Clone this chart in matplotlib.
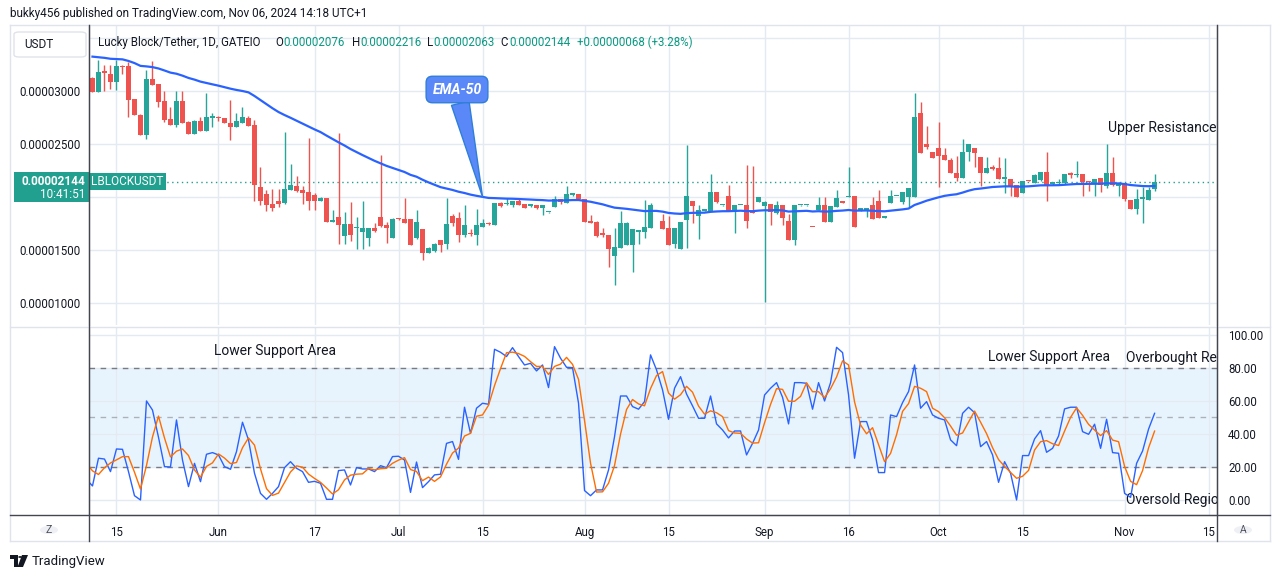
import numpy as np, pandas as pd, matplotlib
matplotlib.use("Agg")
import matplotlib.pyplot as plt
from matplotlib.patches import FancyBboxPatch, Circle, Rectangle, Polygon
from matplotlib.lines import Line2D

plt.rcParams["font.family"] = ["Roboto", "DejaVu Sans"]

# ===== DATA (prices in units of 1e-5 USDT, one bar per day from May 11) =====
OPEN = [3.126, 2.997, 3.182, 3.164, 3.091, 3.236, 3.239, 2.925, 2.777, 2.588,
        3.116, 3.069, 2.909, 2.739, 2.682, 2.909, 2.714, 2.597, 2.720, 2.626,
        2.752, 2.755, 2.745, 2.701, 2.667, 2.704, 2.745, 2.682, 2.101, 2.031,
        1.937, 1.965, 1.950, 2.069, 2.107, 2.069, 2.050, 2.022, 1.969, 1.994,
        1.770, 1.818, 1.638, 1.748, 1.708, 1.676, 1.619, 1.708, 1.814, 1.739,
        1.619, 1.802, 1.796, 1.796, 1.619, 1.701, 1.472, 1.497, 1.597, 1.560,
        1.827, 1.808, 1.645, 1.660, 1.645, 1.723, 1.752, 1.739, 1.947, 1.934,
        1.928, 1.965, 1.937, 1.921, 1.925, 1.896, 1.858, 1.912, 1.981, 1.943,
        2.025, 2.031, 1.981, 1.777, 1.770, 1.654, 1.645, 1.450, 1.525, 1.553,
        1.553, 1.676, 1.676, 1.714, 1.860, 1.777, 1.708, 1.563, 1.513, 1.786,
        1.965, 1.827, 1.874, 1.874, 2.050, 1.923, 2.013, 1.874, 1.925, 1.928,
        1.862, 1.956, 1.921, 1.937, 1.855, 1.928, 1.777, 1.597, 1.925, 1.923,
        1.720, 1.880, 1.928, 1.770, 1.912, 1.965, 2.003, 2.013, 1.874, 1.874,
        1.928, 1.965, 1.808, 1.950, 2.011, 1.959, 2.006, 2.006, 2.796, 2.503,
        2.431, 2.465, 2.399, 2.355, 2.230, 2.186, 2.425, 2.462, 2.377, 2.231,
        2.282, 2.275, 2.168, 2.171, 2.114, 2.041, 2.157, 2.136, 2.161, 2.234,
        2.128, 2.134, 2.130, 2.225, 2.207, 2.218, 2.148, 2.136, 2.180, 2.104,
        2.225, 2.109, 2.136, 1.978, 1.886, 1.987, 1.972, 2.076]
HIGH = [3.135, 3.296, 3.248, 3.248, 3.296, 3.248, 3.280, 2.925, 2.783, 3.201,
        3.286, 3.069, 3.003, 2.849, 3.003, 3.003, 2.720, 2.730, 2.761, 2.987,
        2.799, 2.767, 2.745, 2.918, 2.799, 2.849, 2.770, 2.730, 2.283, 2.069,
        2.079, 2.079, 2.619, 2.314, 2.201, 2.107, 2.560, 2.044, 2.006, 1.994,
        1.881, 2.607, 1.858, 1.956, 1.818, 1.962, 1.708, 1.755, 2.399, 1.764,
        1.802, 1.808, 1.997, 1.796, 1.881, 1.701, 1.535, 1.566, 1.597, 1.991,
        1.843, 1.858, 1.928, 1.701, 1.890, 1.796, 1.770, 1.947, 1.959, 1.997,
        1.965, 1.997, 1.937, 1.931, 1.925, 1.925, 1.860, 2.013, 1.981, 2.107,
        2.038, 2.031, 1.981, 1.833, 1.780, 1.708, 1.645, 1.708, 1.871, 1.770,
        1.701, 1.685, 1.975, 1.950, 1.865, 1.843, 1.824, 1.708, 1.767, 2.494,
        1.965, 1.928, 1.880, 2.220, 2.050, 1.927, 2.116, 1.928, 1.929, 2.305,
        2.296, 2.003, 1.969, 1.937, 1.965, 1.928, 1.843, 1.928, 1.930, 1.928,
        1.722, 2.006, 2.006, 1.918, 2.069, 1.965, 2.289, 2.013, 1.896, 1.896,
        2.006, 2.069, 1.813, 2.069, 2.016, 2.050, 2.088, 2.987, 2.903, 2.673,
        2.431, 2.711, 2.469, 2.368, 2.390, 2.550, 2.503, 2.462, 2.383, 2.383,
        2.304, 2.377, 2.373, 2.171, 2.114, 2.155, 2.160, 2.215, 2.240, 2.430,
        2.145, 2.171, 2.221, 2.234, 2.342, 2.218, 2.150, 2.171, 2.180, 2.503,
        2.377, 2.146, 2.136, 1.978, 2.082, 2.098, 2.098, 2.216]
LOW = [2.997, 2.997, 3.006, 3.019, 3.013, 3.164, 2.761, 2.777, 2.585, 2.550,
       3.060, 2.855, 2.714, 2.682, 2.667, 2.698, 2.597, 2.597, 2.626, 2.626,
       2.667, 2.723, 2.698, 2.541, 2.667, 2.704, 2.676, 1.969, 1.928, 1.874,
       1.874, 1.912, 1.937, 2.069, 2.053, 1.937, 1.881, 1.881, 1.969, 1.770,
       1.767, 1.560, 1.560, 1.591, 1.513, 1.513, 1.541, 1.676, 1.723, 1.572,
       1.619, 1.786, 1.761, 1.553, 1.607, 1.412, 1.472, 1.487, 1.487, 1.509,
       1.730, 1.582, 1.629, 1.635, 1.553, 1.723, 1.739, 1.739, 1.912, 1.928,
       1.912, 1.928, 1.903, 1.912, 1.890, 1.836, 1.856, 1.912, 1.937, 1.943,
       2.016, 1.981, 1.767, 1.761, 1.623, 1.629, 1.346, 1.173, 1.525, 1.553,
       1.299, 1.560, 1.619, 1.714, 1.858, 1.701, 1.553, 1.525, 1.513, 1.525,
       1.761, 1.607, 1.871, 1.874, 1.943, 1.921, 1.874, 1.667, 1.923, 1.714,
       1.852, 1.956, 1.016, 1.742, 1.843, 1.739, 1.597, 1.553, 1.922, 1.921,
       1.715, 1.880, 1.770, 1.770, 1.912, 1.950, 2.003, 1.723, 1.874, 1.811,
       1.796, 1.808, 1.806, 1.950, 2.009, 1.934, 1.912, 2.006, 2.421, 2.456,
       2.374, 2.101, 2.352, 2.233, 2.157, 2.186, 2.346, 2.288, 2.104, 2.231,
       2.256, 2.168, 2.044, 2.009, 2.003, 2.041, 2.150, 2.130, 2.155, 1.965,
       2.120, 2.114, 2.127, 2.177, 2.193, 2.009, 2.060, 2.009, 2.051, 2.089,
       2.104, 2.009, 1.965, 1.892, 1.839, 1.756, 1.972, 2.063]
CLOSE = [2.997, 3.182, 3.176, 3.091, 3.239, 3.230, 2.918, 2.777, 2.588, 3.116,
         3.060, 2.903, 2.730, 2.682, 2.909, 2.704, 2.597, 2.723, 2.626, 2.755,
         2.758, 2.749, 2.698, 2.667, 2.720, 2.758, 2.676, 2.116, 1.969, 1.928,
         1.903, 1.937, 2.079, 2.116, 2.060, 2.044, 1.969, 1.969, 1.994, 1.770,
         1.773, 1.742, 1.748, 1.645, 1.717, 1.708, 1.708, 1.682, 1.733, 1.714,
         1.796, 1.796, 1.761, 1.553, 1.764, 1.472, 1.522, 1.560, 1.553, 1.748,
         1.755, 1.645, 1.739, 1.654, 1.739, 1.758, 1.748, 1.947, 1.918, 1.937,
         1.965, 1.928, 1.903, 1.925, 1.896, 1.925, 1.860, 1.981, 1.956, 2.031,
         2.031, 1.981, 1.767, 1.761, 1.638, 1.648, 1.513, 1.535, 1.758, 1.758,
         1.701, 1.680, 1.717, 1.928, 1.862, 1.701, 1.553, 1.708, 1.767, 2.013,
         1.918, 1.880, 1.877, 2.050, 1.953, 1.925, 1.874, 1.928, 1.927, 1.780,
         1.852, 2.003, 1.956, 1.865, 1.928, 1.808, 1.597, 1.928, 1.928, 1.926,
         1.717, 1.928, 1.770, 1.918, 1.991, 1.950, 2.009, 1.723, 1.896, 1.896,
         1.796, 1.808, 1.811, 2.013, 2.014, 2.050, 2.088, 2.758, 2.421, 2.478,
         2.374, 2.393, 2.352, 2.233, 2.186, 2.428, 2.503, 2.421, 2.231, 2.275,
         2.269, 2.168, 2.190, 2.098, 2.003, 2.155, 2.153, 2.209, 2.234, 2.114,
         2.131, 2.137, 2.218, 2.209, 2.210, 2.146, 2.144, 2.171, 2.114, 2.225,
         2.114, 2.112, 1.984, 1.892, 1.987, 1.990, 2.073, 2.144]
EMA_PRE = 3.34          # EMA-50 value on the bar before the first visible one
LAST_PRICE = 2.144

# Stochastic RSI %K (first two values are the bars left of the window)
STOCH_K = [32.0, 12.5,
           8.5, 25.3, 24.8, 17.2, 30.9, 30.7, 17.2, 2.6, 0.0, 60.0,
           54.5, 38.0, 20.2, 20.0, 48.5, 24.2, 8.1, 22.2, 11.1, 27.7,
           28.7, 27.3, 20.2, 18.6, 29.3, 47.1, 36.4, 16.2, 4.0, 0.4,
           4.0, 8.1, 19.6, 23.2, 19.2, 17.2, 10.7, 11.3, 10.1, 0.4,
           0.4, 17.8, 18.2, 9.1, 19.6, 18.8, 18.8, 17.2, 20.8, 19.6,
           26.3, 26.5, 24.2, 4.6, 23.0, 7.5, 11.1, 15.2, 15.6, 34.3,
           35.4, 24.6, 56.2, 40.4, 55.6, 58.6, 58.0, 91.3, 89.5, 86.9,
           92.3, 86.9, 81.8, 82.8, 78.2, 81.8, 68.1, 92.9, 85.9, 80.4,
           80.2, 58.6, 5.7, 2.6, 6.1, 6.1, 18.2, 38.4, 63.0, 63.0,
           56.6, 55.0, 59.6, 87.9, 78.8, 66.7, 48.9, 67.7, 74.7, 64.2,
           57.0, 49.5, 49.5, 63.0, 46.1, 42.4, 37.6, 41.8, 41.8, 27.3,
           34.3, 42.4, 63.6, 67.7, 71.1, 62.2, 46.1, 71.1, 71.1, 70.7,
           55.0, 71.1, 60.0, 71.1, 92.5, 89.3, 63.6, 25.3, 47.5, 47.5,
           36.4, 16.6, 16.6, 51.5, 50.5, 59.0, 65.7, 81.8, 55.6, 59.6,
           51.5, 49.5, 48.5, 36.4, 32.9, 52.5, 56.2, 52.9, 32.3, 35.4,
           27.3, 10.7, 23.2, 16.2, 0.0, 26.9, 26.9, 37.0, 42.0, 28.9,
           31.3, 38.8, 55.2, 56.2, 56.2, 41.4, 39.8, 45.9, 31.3, 48.9,
           28.7, 28.3, 4.0, 1.6, 22.2, 29.7, 43.0, 52.5]

TICK_POS = [4, 21, 37, 51, 65, 82, 96, 112, 126, 141, 155, 172, 186]
TICK_LBL = ["15", "Jun", "17", "Jul", "15", "Aug", "15", "Sep", "16", "Oct",
            "15", "Nov", "15"]
PRICE_TICKS = [1.0, 1.5, 2.0, 2.5, 3.0, 3.5]
OSC_TICKS = [0, 20, 40, 60, 80, 100]

# ===== STYLE =====
UP = "#26a69a"; DN = "#ef5350"; EMA_C = "#2962ff"; K_C = "#2962ff"; D_C = "#ff6d00"
GRID = "#e3eaf2"; FRAME = "#e0e3eb"; DARK = "#434651"; TXT = "#131722"; TEAL = "#22a08f"
W, H = 1281, 579
def fx(x): return x / W
def fy(y): return 1 - y / H

o = np.array(OPEN); h = np.array(HIGH); l = np.array(LOW); c = np.array(CLOSE)
x = np.arange(len(c))
ema = pd.Series(np.r_[EMA_PRE, c]).ewm(span=50, adjust=False).mean().to_numpy()[1:]
k_all = pd.Series(STOCH_K)
d_all = k_all.rolling(3, min_periods=1).mean()
xk = np.arange(len(STOCH_K)) - 2

fig = plt.figure(figsize=(W / 100, H / 100), dpi=100, facecolor="white")
ax1 = fig.add_axes([fx(89), fy(325), (1217 - 89) / W, 300 / H])
ax2 = fig.add_axes([fx(89), fy(515), (1217 - 89) / W, 187 / H], sharex=ax1)

# --- price panel
col = np.where(c >= o, UP, DN)
ax1.vlines(x, l, h, colors=col, lw=1, zorder=3)
ax1.bar(x, np.maximum(np.abs(c - o), 0.012), bottom=np.minimum(o, c), width=0.78,
        color=col, lw=0, zorder=3)
ax1.plot(x, ema, color=EMA_C, lw=1.6, zorder=4)
ax1.axhline(LAST_PRICE, color=TEAL, lw=1, ls=(0, (1, 2.5)), zorder=2)
ax1.set_xlim(-0.58, 187.4)
ax1.set_ylim(0.795, 3.625)
ax1.set_yticks(PRICE_TICKS)
ax1.set_yticklabels(["" if v in (2.0, 3.5) else f"{v * 1e-5:.8f}" for v in PRICE_TICKS])
ax1.tick_params(axis="y", length=0, pad=6, labelsize=8.3, labelcolor=TXT)
ax1.tick_params(axis="x", length=0, labelbottom=False)
ax1.grid(True, color=GRID, lw=1, zorder=0)
for s in ["top", "bottom"]:
    ax1.spines[s].set_visible(False)
for s in ["left", "right"]:
    ax1.spines[s].set_color(DARK)

ax1.annotate("EMA-50", xy=(65, ema[65]), xytext=(fx(457), fy(89.5)),
             textcoords="figure fraction", ha="center", va="center",
             color="white", fontsize=10, fontstyle="italic", fontweight="bold",
             bbox=dict(boxstyle="round,pad=0.45,rounding_size=0.45", fc="#5b88f8", ec="#2f7fd8", lw=1),
             arrowprops=dict(arrowstyle="wedge,tail_width=1.3,shrink_factor=0.5",
                             fc="#5b88f8", ec="#2f7fd8", lw=1, shrinkA=0, shrinkB=0),
             zorder=6)
ax1.text(169.25, 2.654, "Upper Resistance", fontsize=10, color=TXT, va="center", ha="left")

# --- oscillator panel
ax2.axhspan(20, 80, color="#2196f3", alpha=0.1, lw=0, zorder=1)
for v, a in [(80, 1), (50, 0.55), (20, 1)]:
    ax2.axhline(v, color="#787b86", lw=1, ls=(0, (4, 4)), alpha=a, zorder=2)
ax2.plot(xk, k_all, color=K_C, lw=1, zorder=4)
ax2.plot(xk, d_all, color=D_C, lw=1, zorder=4)
ax2.set_ylim(-9.1, 104.2)
ax2.set_yticks(OSC_TICKS)
ax2.set_yticklabels([f"{v:.2f}" for v in OSC_TICKS])
ax2.yaxis.tick_right()
ax2.tick_params(axis="y", length=0, pad=8, labelsize=8.3, labelcolor=TXT)
ax2.set_xticks(TICK_POS)
ax2.set_xticklabels(TICK_LBL)
ax2.tick_params(axis="x", length=0, pad=8, labelsize=8.3, labelcolor=TXT)
ax2.grid(True, color=GRID, lw=1, zorder=0)
ax2.spines["top"].set_visible(False)
for s in ["left", "right", "bottom"]:
    ax2.spines[s].set_color(DARK)
ax2.text(20.25, 90.3, "Lower Support Area", fontsize=10, color=TXT, va="center")
ax2.text(149.25, 86.7, "Lower Support Area", fontsize=10, color=TXT, va="center")
ax2.text(172.25, 86.0, "Overbought Region", fontsize=10, color=TXT, va="center", clip_on=True)
ax2.text(172.25, 0.0, "Oversold Region", fontsize=10, color=TXT, va="center", clip_on=True)

# --- frame and chrome
def fline(x0, y0, x1, y1, color, lw=1):
    fig.add_artist(Line2D([fx(x0), fx(x1)], [fy(y0), fy(y1)], color=color, lw=lw,
                          transform=fig.transFigure))
fline(10, 25, 1270, 25, FRAME); fline(10, 541, 1270, 541, FRAME)
fline(10, 25, 10, 541, FRAME); fline(1270, 25, 1270, 541, FRAME)
fline(10, 326.5, 1270, 326.5, FRAME)
fline(10, 515, 1270, 515, DARK)
fline(89, 25, 89, 541, DARK); fline(1217, 25, 1217, 541, DARK)

fig.text(fx(10), fy(14), "bukky456 published on TradingView.com, Nov 06, 2024 14:18 UTC+1",
         fontsize=8.5, color=TXT, va="center")
fig.add_artist(FancyBboxPatch((fx(14), fy(57)), fx(72), 25 / H,
                              boxstyle="round,pad=0,rounding_size=0.004",
                              fc="white", ec=FRAME, lw=1, transform=fig.transFigure))
fig.text(fx(24), fy(45), "USDT", fontsize=8.5, color=TXT, va="center")

legend = [(98.5, "Lucky Block/Tether, 1D, GATEIO", TXT), (275, "O", TXT),
          (283.5, "0.00002076", "#089981"), (351.5, "H", TXT),
          (360, "0.00002216", "#089981"), (427, "L", TXT),
          (433.5, "0.00002063", "#089981"), (500.5, "C", TXT),
          (509, "0.00002144", "#089981"), (577, "+0.00000068 (+3.28%)", "#089981")]
for px, s, cc in legend:
    fig.text(fx(px), fy(42.5), s, fontsize=8.3, color=cc, va="center")

# last price tag on the left scale
fig.add_artist(Rectangle((fx(14), fy(202)), fx(75), 30 / H, fc=TEAL, ec="none",
                         transform=fig.transFigure))
fig.text(fx(85), fy(181), "0.00002144", fontsize=8.5, color="white",
         fontweight="bold", ha="right", va="center")
fig.text(fx(85), fy(195), "10:41:51", fontsize=8.5, color="white", ha="right", va="center")
fig.add_artist(Rectangle((fx(89), fy(190)), fx(77), 17 / H, fc=TEAL, ec="none",
                         transform=fig.transFigure))
fig.text(fx(127.5), fy(181.5), "LBLOCKUSDT", fontsize=8.5, color="white",
         ha="center", va="center")

# Z / A buttons
for cx, s in [(49, "Z"), (1243, "A")]:
    fig.add_artist(Circle((fx(cx), fy(530)), 9 / W, fc="#eef0f5", ec="none",
                          transform=fig.transFigure))
    fig.text(fx(cx), fy(530), s, fontsize=7.5, color="#50535e", ha="center", va="center")

# TradingView logo
logo = [[(10, 555), (18, 555), (18, 567), (14, 567), (14, 559), (10, 559)],
        [(22, 555), (28, 555), (23, 567), (17.5, 567)]]
for pts in logo:
    fig.add_artist(Polygon([(fx(a), fy(b)) for a, b in pts], closed=True, fc=TXT,
                           ec="none", transform=fig.transFigure))
fig.add_artist(Circle((fx(20.2), fy(557)), 2 / W, fc=TXT, ec="none", transform=fig.transFigure))
fig.text(fx(32), fy(561), "TradingView", fontsize=9.5, color=TXT, va="center")

fig.savefig("out.png", dpi=100, facecolor="white")
